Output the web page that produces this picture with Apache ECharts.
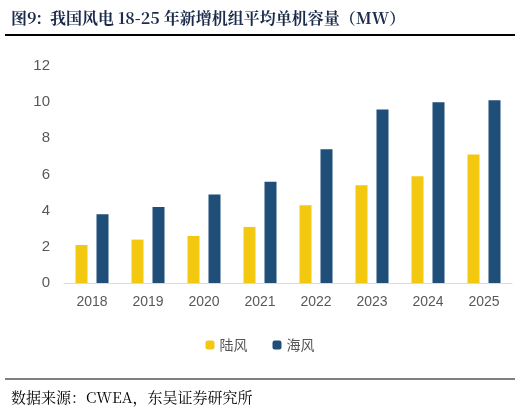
<!DOCTYPE html>
<html><head><meta charset="utf-8">
<script src="https://cdn.jsdelivr.net/npm/echarts@6/dist/echarts.min.js"></script>
<style>body{margin:0;background:#fff}#c{width:520px;height:413px}</style>
</head><body><div id="c"></div>
<script>
const categories=['2018','2019','2020','2021','2022','2023','2024','2025'];
const onshore=[2.1,2.4,2.6,3.1,4.3,5.4,5.9,7.1];
const offshore=[3.8,4.2,4.9,5.6,7.4,9.6,10.0,10.1];
const yTicks=[0,2,4,6,8,10,12];
const chart=echarts.init(document.getElementById('c'));
chart.setOption({
  animation:false,
  title:[{text:'图9:  我国风电 18-25 年新增机组平均单机容量（MW）',left:6,top:5,textStyle:{fontFamily:'Noto Serif CJK SC, Noto Sans CJK SC',fontSize:16,fontWeight:'bold',color:'#1a2b4c'}},
         {text:'数据来源：CWEA，东吴证券研究所',left:6,top:385,textStyle:{fontFamily:'Noto Serif CJK SC, Noto Sans CJK SC',fontSize:15,fontWeight:'normal',color:'#000'}}],
  graphic:[{type:'line',shape:{x1:5,y1:35,x2:515,y2:35},style:{stroke:'#000',lineWidth:2}},
           {type:'line',shape:{x1:5,y1:379,x2:515,y2:379},style:{stroke:'#000',lineWidth:1}}],
  legend:{top:333,left:'center',itemWidth:9,itemHeight:9,itemGap:25,textStyle:{fontSize:14,color:'#555',fontFamily:'Noto Sans CJK SC'},data:['陆风','海风']},
  grid:{left:64,right:8,top:66,bottom:130},
  xAxis:{type:'category',data:categories,axisTick:{show:false},axisLine:{lineStyle:{color:'#d9d9d9'}},axisLabel:{color:'#595959',fontSize:14,margin:12}},
  yAxis:{type:'value',min:0,max:12,interval:2,splitLine:{show:false},axisLine:{show:false},axisTick:{show:false},axisLabel:{color:'#595959',fontSize:15,margin:14,formatter:v=>yTicks.includes(v)?String(v):''}},
  series:[
    {name:'陆风',type:'bar',data:onshore,barWidth:12,barGap:'75%',itemStyle:{color:'#f2c811'}},
    {name:'海风',type:'bar',data:offshore,barWidth:12,itemStyle:{color:'#1f4e79'}}
  ]
});
</script></body></html>
